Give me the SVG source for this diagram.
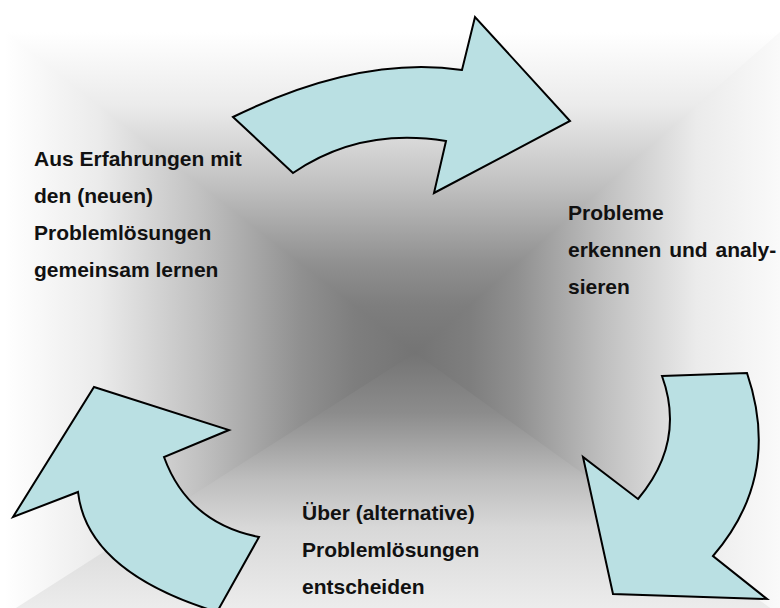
<svg xmlns="http://www.w3.org/2000/svg" width="780" height="608" viewBox="0 0 780 608">
  <style>
    .arrow { fill: #BAE0E3; stroke: #000; stroke-width: 2; stroke-linejoin: miter; }
    .lbl { font-family: "Liberation Sans", Arial, sans-serif; font-weight: bold; font-size: 21px; fill: #111; }
  </style>
  <defs>
    <linearGradient id="gH" gradientUnits="userSpaceOnUse" x1="5" y1="0" x2="780" y2="0">
      <stop offset="0" stop-color="#ffffff"/>
      <stop offset="0.1217" stop-color="#ebebeb"/>
      <stop offset="0.254" stop-color="#c0c0c0"/>
      <stop offset="0.381" stop-color="#909090"/>
      <stop offset="0.450" stop-color="#7e7e7e"/>
      <stop offset="0.529" stop-color="#747474"/>
      <stop offset="0.600" stop-color="#7e7e7e"/>
      <stop offset="0.661" stop-color="#909090"/>
      <stop offset="0.774" stop-color="#c0c0c0"/>
      <stop offset="0.892" stop-color="#ebebeb"/>
      <stop offset="1" stop-color="#fafafa"/>
    </linearGradient>
    <linearGradient id="gT" gradientUnits="userSpaceOnUse" x1="0" y1="32" x2="0" y2="353">
      <stop offset="0" stop-color="#ffffff"/>
      <stop offset="0.23" stop-color="#ebebeb"/>
      <stop offset="0.48" stop-color="#c0c0c0"/>
      <stop offset="0.72" stop-color="#909090"/>
      <stop offset="0.85" stop-color="#7e7e7e"/>
      <stop offset="1" stop-color="#747474"/>
    </linearGradient>
    <linearGradient id="gB" gradientUnits="userSpaceOnUse" x1="0" y1="353" x2="0" y2="615">
      <stop offset="0" stop-color="#747474"/>
      <stop offset="0.229" stop-color="#8c8c8c"/>
      <stop offset="0.485" stop-color="#bebebe"/>
      <stop offset="0.668" stop-color="#d8d8d8"/>
      <stop offset="0.973" stop-color="#ececec"/>
      <stop offset="1" stop-color="#eeeeee"/>
    </linearGradient>
  </defs>
  <g id="background">
    <rect x="0" y="0" width="780" height="608" fill="#ffffff"/>
    <rect x="5" y="32" width="775" height="576" fill="url(#gH)"/>
    <polygon points="5,32 780,32 415,353" fill="url(#gT)"/>
    <polygon points="5,615 780,615 415,353" fill="url(#gB)"/>
  </g>
  <g id="connectors">
    <path id="arrow-top" class="arrow" d="M233,117 Q360,55 462,70 L475,17 L570,121 L434,193 L446,141 Q360,127 293,173 Z"/>
    <path id="arrow-right" class="arrow" d="M662,376 L747,373 Q782,476 713,556 L767,599 L613,594 L583,457 L638,499 Q686,442 662,376 Z"/>
    <path id="arrow-left" class="arrow" d="M94,387 L229,430 L164,457 Q188,523 259,537 L217,612 Q87,572 78,492 L13,517 Z"/>
  </g>
  <g id="node-learn">
    <text class="lbl" x="34" y="166">Aus Erfahrungen mit</text>
    <text class="lbl" x="34" y="203">den (neuen)</text>
    <text class="lbl" x="34" y="240">Problemlösungen</text>
    <text class="lbl" x="34" y="277">gemeinsam lernen</text>
  </g>
  <g id="node-analyse">
    <text class="lbl" x="568" y="220">Probleme</text>
    <text class="lbl" x="568" y="257" word-spacing="2">erkennen und analy-</text>
    <text class="lbl" x="568" y="294">sieren</text>
  </g>
  <g id="node-decide">
    <text class="lbl" x="302" y="520">Über (alternative)</text>
    <text class="lbl" x="302" y="557">Problemlösungen</text>
    <text class="lbl" x="302" y="594">entscheiden</text>
  </g>
</svg>
